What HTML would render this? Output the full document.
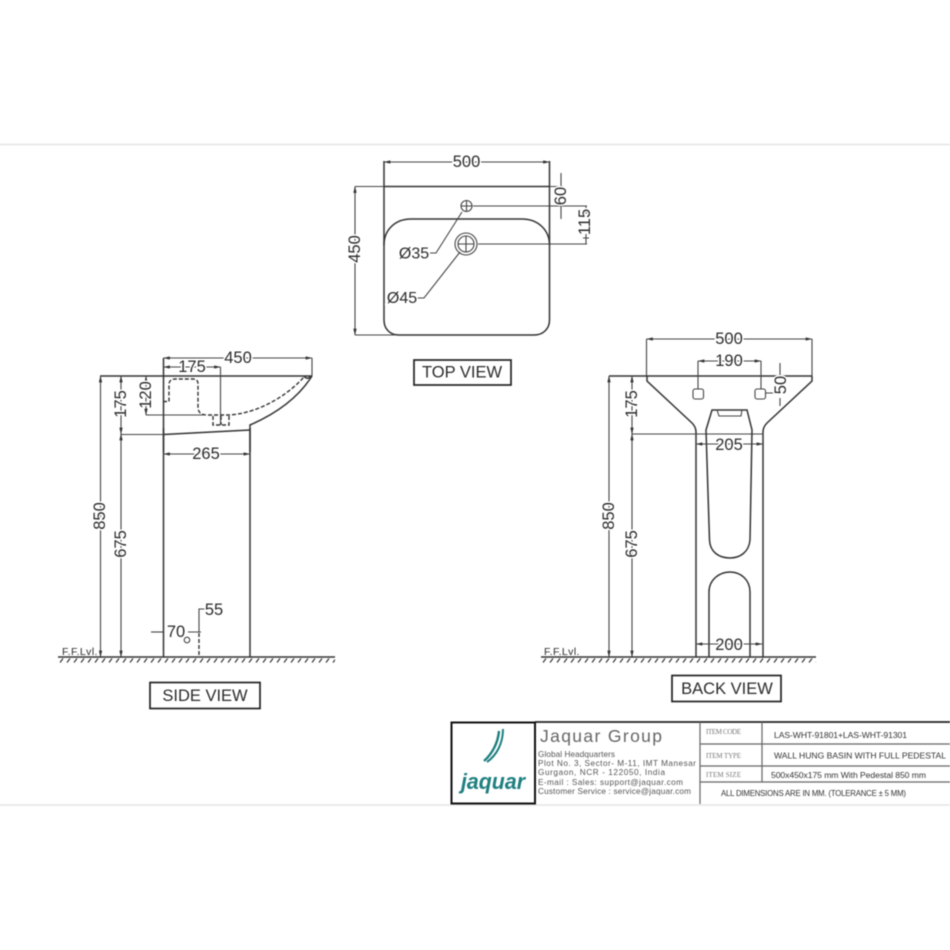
<!DOCTYPE html>
<html><head><meta charset="utf-8"><style>
html,body{margin:0;padding:0;background:#fff;width:950px;height:950px;overflow:hidden}
svg{display:block;filter:blur(.6px)}
text{font-family:"Liberation Sans",sans-serif;fill:#2b2b2b}
.d{font-size:16.5px;text-anchor:middle;stroke:#fff;stroke-width:3px;paint-order:stroke;dominant-baseline:central}
.l{fill:none;stroke:#444;stroke-width:1.1}
.o{fill:none;stroke:#333;stroke-width:1.5}
.a{marker-start:url(#m);marker-end:url(#m)}
.dash{fill:none;stroke:#333;stroke-width:1.4;stroke-dasharray:4 2}
.box{fill:#fff;stroke:#222;stroke-width:1.7}
.lab{font-size:16.5px;text-anchor:middle}
.s{font-size:8.2px;fill:#555}
.i{font-family:"Liberation Serif",serif;font-size:7px;fill:#777}
.v{font-size:8.6px;fill:#333}
</style></head><body>
<svg width="950" height="950" viewBox="0 0 950 950" xmlns="http://www.w3.org/2000/svg">
<defs>
<marker id="m" viewBox="-5 -3 10 6" markerWidth="7" markerHeight="4" markerUnits="userSpaceOnUse" orient="auto-start-reverse" refX="4.5" refY="0"><path d="M5 0L-5 -2.5V2.5Z" fill="#333"/></marker>
<pattern id="h" width="7" height="5" patternUnits="userSpaceOnUse" x="58" y="658"><path d="M5 0.5L2 4.5" stroke="#333" stroke-width="1.200"/></pattern>
</defs>
<rect x="-2" y="144.500" width="954" height="660.500" fill="#fff" stroke="#e4e4e4" stroke-width="1.500"/>

<!-- TOP VIEW -->
<path class="o" d="M384 161V245M549.500 161V245"/>
<path class="o" d="M384 186.500H549.500"/>
<path class="l" d="M355 186.500H384M549.500 186.500H563"/>
<path class="o" d="M384 245C384 230 395 219 411 219H522C538 219 549.500 230 549.500 245V320C549.500 329 543 335 534 335H399C390 335 384 329 384 320Z"/>
<path class="l a" d="M384 162H549.500"/>
<path class="l a" d="M355 186.500V335"/>
<path class="l" d="M355 335H395"/>
<circle class="l" cx="466.500" cy="206" r="5.500"/><path class="l" d="M461 206H472M466.500 200.500V211.500"/>
<circle class="l" cx="466" cy="244" r="11"/><circle class="l" cx="466" cy="244" r="8"/><path class="l" d="M458 244H474M466 236V252"/>
<path class="l" d="M473 206H587M478 244H587"/>
<path class="l" d="M561 173V186M561 206V219"/>
<path class="l" d="M586 206V213M586 234V244M583 213H589M583 238H589"/>
<path class="l" d="M430 253H436L462 212M416 298H424L460 252"/>
<text class="d" x="466.500" y="162">500</text>
<text class="d" x="355" y="249" transform="rotate(-90 355 249)">450</text>
<text class="d" x="561" y="196" transform="rotate(-90 561 196)">60</text>
<text class="d" x="585" y="222" transform="rotate(-90 585 222)">115</text>
<text class="d" x="414" y="254" style="font-size:16px">Ø35</text>
<text class="d" x="402" y="298.500" style="font-size:16px">Ø45</text>
<rect class="box" x="414" y="360" width="97" height="25"/>
<text class="lab" x="462" y="377.500">TOP VIEW</text>

<!-- SIDE VIEW -->
<path class="o" d="M100 376H312"/>
<path class="l" d="M312 358V376M220.500 367V425"/>
<path class="o" d="M163.500 358V657"/>
<path class="o" d="M304 376C306 379 308 379 312 376C300 395 280 412 250 425V657"/>
<path class="o" d="M163.500 434.500L250 430" stroke-width="1.700"/>
<path class="o" d="M163.500 428V452M250 428V452" stroke-width="2"/>
<path class="dash" d="M163 401.500H169V385Q169 379 175 379H193Q198 379 198 384V407Q198 415 207 415H228C255 414 285 398 304 377"/>
<path class="dash" d="M213 416V425H229V416M221 416V425" stroke-width="1.200"/>
<path class="l" d="M146 415H205M121 434.500H163"/>
<path class="l a" d="M163.500 358H312"/>
<path class="l a" d="M163.500 367H220.500"/>
<path class="l a" d="M146 376V415"/>
<path class="l a" d="M121 376V434"/>
<path class="l a" d="M121 434V657"/>
<path class="l a" d="M100.500 376V657"/>
<path class="l a" d="M163.500 454H250"/>
<text class="d" x="238" y="358">450</text>
<text class="d" x="192" y="367">175</text>
<text class="d" x="146" y="395" transform="rotate(-90 146 395)">120</text>
<text class="d" x="121" y="404" transform="rotate(-90 121 404)">175</text>
<text class="d" x="206" y="454">265</text>
<text class="d" x="100" y="516" transform="rotate(-90 100 516)">850</text>
<text class="d" x="121" y="544" transform="rotate(-90 121 544)">675</text>
<path class="l" d="M151 632H163"/>
<path class="l" d="M188 632H201M199 632V609H205"/>
<path class="dash" d="M199 633V657"/>
<circle class="l" cx="187" cy="640" r="2.800"/>
<text class="d" x="176" y="632">70</text>
<text class="d" x="214" y="610">55</text>
<path class="o" d="M58 657H335" stroke-width="2"/>
<rect x="58" y="658" width="277" height="5" fill="url(#h)"/>
<text x="62" y="655" style="font-size:10.500px;letter-spacing:.4px">F.F.Lvl.</text>
<rect class="box" x="150" y="682.500" width="110" height="26"/>
<text class="lab" x="205" y="701">SIDE VIEW</text>

<!-- BACK VIEW -->
<path class="l" d="M646.500 339V376M812 339V376"/>
<path class="o" d="M609 376H812"/>
<path class="o" d="M647 376V381L692 423Q696 427 696 432V657M812 376V381L767 423Q763 427 763 432V657"/>
<path class="l" d="M632 434H763"/>
<path class="o" d="M712 410H747L752 430L750 540C749 552 740 558 730 558C719 558 710 552 709.500 540L706 430Z" stroke-width="1.300"/>
<path class="l" d="M717 410L719 416H741L742 410"/>
<path class="o" d="M709 657V592C709 580 719 572 730 572C741 572 750 580 750 592V657" stroke-width="1.300"/>
<rect class="l" x="693" y="389" width="10.500" height="10" rx="2"/>
<rect class="l" x="755" y="389" width="10.500" height="10" rx="2"/>
<path class="l" d="M698 361V389M761 361V389M766 393H780M780 363V376M780 398V406"/>
<path class="l a" d="M646.500 339H812"/>
<path class="l a" d="M698 361H761"/>
<path class="l a" d="M696 444H763"/>
<path class="l a" d="M696 644H762"/>
<path class="l a" d="M632 376V434"/>
<path class="l a" d="M632 434V657"/>
<path class="l a" d="M609 376V657"/>
<text class="d" x="729" y="339">500</text>
<text class="d" x="729" y="361">190</text>
<text class="d" x="729" y="445">205</text>
<text class="d" x="729" y="645">200</text>
<text class="d" x="781" y="385" transform="rotate(-90 781 385)">50</text>
<text class="d" x="632" y="404" transform="rotate(-90 632 404)">175</text>
<text class="d" x="609" y="516" transform="rotate(-90 609 516)">850</text>
<text class="d" x="632" y="544" transform="rotate(-90 632 544)">675</text>
<path class="o" d="M541 657H816" stroke-width="2"/>
<rect x="541" y="658" width="275" height="5" fill="url(#h)"/>
<text x="544" y="655" style="font-size:10.500px;letter-spacing:.4px">F.F.Lvl.</text>
<rect class="box" x="672" y="675.500" width="109" height="26"/>
<text class="lab" x="727" y="694">BACK VIEW</text>

<!-- TITLE BLOCK -->
<path d="M535 722H950" stroke="#222" stroke-width="1.800"/>
<rect x="451.500" y="722.500" width="83.500" height="81" fill="#fff" stroke="#111" stroke-width="2"/>
<path d="M700 722V804M762 722V782M700 744H950M700 766H950M700 782H950" stroke="#666" stroke-width="1.200" fill="none"/>
<path d="M499 731C498 743 492 754 484 761" fill="none" stroke="#1f7f80" stroke-width="2.400"/>
<path d="M503 729C503 743 497 755 487 762" fill="none" stroke="#1f7f80" stroke-width="2"/>
<text x="461" y="789" style="font-size:22px;font-style:italic;font-weight:bold;fill:#1f7f80" textLength="64" lengthAdjust="spacingAndGlyphs">jaquar</text>
<text x="540" y="742" style="font-size:17.500px;fill:#666" textLength="122">Jaquar  Group</text>
<text class="s" x="538" y="757" textLength="77">Global Headquarters</text>
<text class="s" x="538" y="766" textLength="158">Plot No. 3, Sector- M-11, IMT Manesar</text>
<text class="s" x="538" y="775" textLength="127">Gurgaon, NCR - 122050, India</text>
<text class="s" x="538" y="785" textLength="145">E-mail : Sales: support@jaquar.com</text>
<text class="s" x="538" y="794" textLength="153">Customer Service : service@jaquar.com</text>
<text class="i" x="706" y="734" textLength="35">ITEM CODE</text>
<text class="i" x="706" y="758" textLength="35">ITEM TYPE</text>
<text class="i" x="706" y="777" textLength="35">ITEM SIZE</text>
<text class="v" x="774" y="738" textLength="133">LAS-WHT-91801+LAS-WHT-91301</text>
<text class="v" x="774" y="758.500" textLength="172">WALL HUNG BASIN WITH FULL PEDESTAL</text>
<text class="v" x="771" y="778" textLength="155">500x450x175 mm With Pedestal 850 mm</text>
<text class="v" x="721" y="796" textLength="185" style="font-size:7.800px">ALL DIMENSIONS ARE IN MM. (TOLERANCE ± 5 MM)</text>
</svg>
</body></html>
